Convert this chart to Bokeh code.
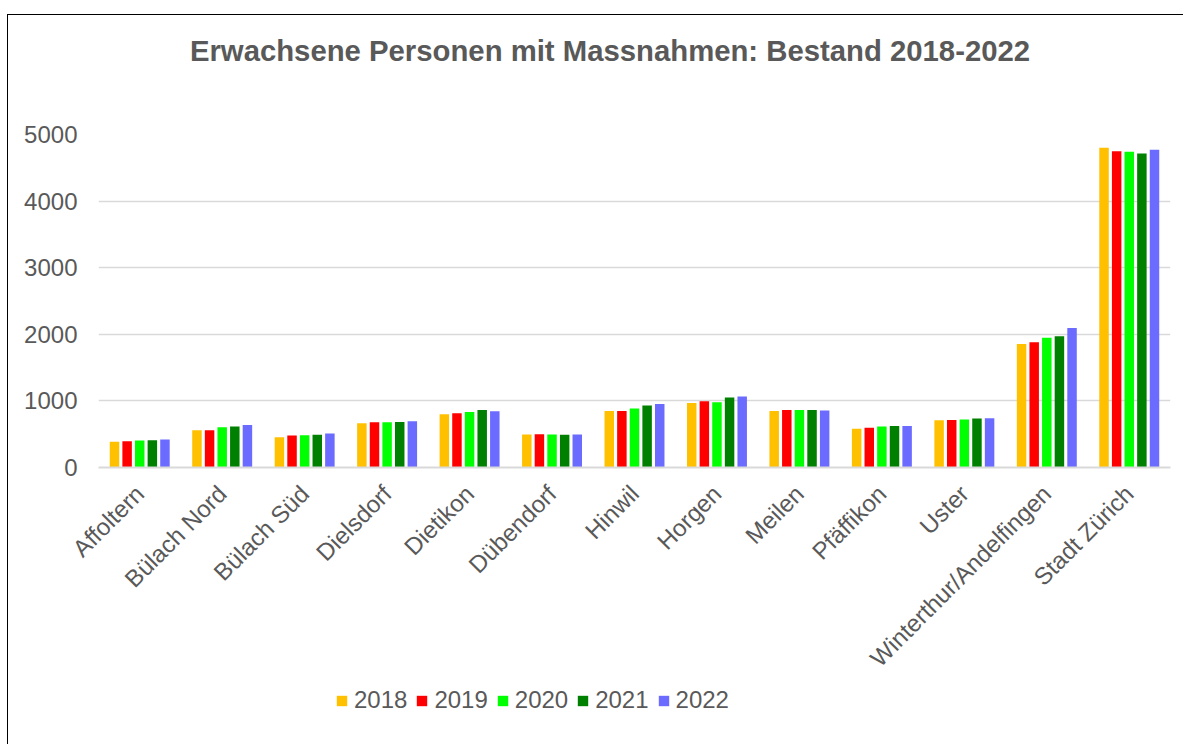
import math
from bokeh.plotting import figure
from bokeh.layouts import column
from bokeh.models import (ColumnDataSource, FactorRange, Range1d, FixedTicker,
                          Legend, LegendItem, Label, InlineStyleSheet)
from bokeh.transform import dodge
from bokeh.embed import file_html
from bokeh.resources import INLINE

categories = ["Affoltern", "Bülach Nord", "Bülach Süd", "Dielsdorf", "Dietikon",
              "Dübendorf", "Hinwil", "Horgen", "Meilen", "Pfäffikon", "Uster",
              "Winterthur/Andelfingen", "Stadt Zürich"]
years = ["2018", "2019", "2020", "2021", "2022"]
v2018 = [385, 560, 455, 665, 800, 495, 850, 970, 850, 580, 710, 1855, 4800]
v2019 = [395, 560, 480, 680, 815, 500, 850, 995, 865, 595, 715, 1880, 4750]
v2020 = [405, 605, 485, 680, 835, 495, 885, 980, 865, 615, 720, 1950, 4740]
v2021 = [410, 615, 490, 685, 865, 490, 930, 1050, 865, 625, 735, 1970, 4715]
v2022 = [420, 640, 510, 695, 845, 495, 955, 1065, 855, 625, 740, 2095, 4770]
y_ticks = [0, 1000, 2000, 3000, 4000, 5000]
title_text = "Erwachsene Personen mit Massnahmen: Bestand 2018-2022"

colors = ["#FFC000", "#FF0000", "#00FF00", "#008000", "#6B6BFF"]
series = [v2018, v2019, v2020, v2021, v2022]

src = ColumnDataSource(dict(cat=categories, **{"y" + y: s for y, s in zip(years, series)}))

FONT = "Liberation Sans"
GREY = "#595959"
W = 1175
BL, BR = 90, 13
FW = W - BL - BR

# title strip
t = figure(width=W, height=52, output_backend="svg", toolbar_location=None,
           x_range=Range1d(0, FW), y_range=Range1d(0, 52),
           x_axis_type=None, y_axis_type=None,
           min_border_left=BL, min_border_right=BR, min_border_top=0, min_border_bottom=0)
t.outline_line_color = None
t.grid.visible = False
t.add_layout(Label(x=511.5, y=17.5, text=title_text, text_align="center",
                   text_baseline="alphabetic", text_font=FONT,
                   text_font_size="29.3px", text_font_style="bold",
                   text_color=GREY))

# main chart
p = figure(x_range=FactorRange(*categories), y_range=Range1d(0, 5000),
           width=W, height=617, output_backend="svg", toolbar_location=None,
           min_border_left=BL, min_border_right=BR, min_border_top=67,
           min_border_bottom=213)
p.outline_line_color = None
p.background_fill_color = "white"
p.border_fill_color = "white"

step = 0.153
for i, (yr, col) in enumerate(zip(years, colors)):
    p.vbar(x=dodge("cat", (i - 2) * step, range=p.x_range), top="y" + yr,
           width=0.115, source=src, fill_color=col, line_color=None)

p.yaxis.ticker = FixedTicker(ticks=y_ticks)
p.yaxis.axis_line_color = None
p.yaxis.major_tick_line_color = None
p.yaxis.minor_tick_line_color = None
p.yaxis.major_label_text_font = FONT
p.yaxis.major_label_text_font_size = "24px"
p.yaxis.major_label_text_color = GREY
p.yaxis.major_label_standoff = 15

p.xaxis.axis_line_color = "#D9D9D9"
p.xaxis.axis_line_width = 2
p.xaxis.major_tick_line_color = None
p.xaxis.minor_tick_line_color = None
p.xaxis.major_label_text_font = FONT
p.xaxis.major_label_text_font_size = "24px"
p.xaxis.major_label_text_color = GREY
p.xaxis.major_label_orientation = math.pi / 4
p.xaxis.major_label_standoff = 16

p.xgrid.grid_line_color = None
p.ygrid.grid_line_color = "#D9D9D9"
p.ygrid.grid_line_width = 1.5

# legend strip (zero-width bars: only the legend swatches show)
q = figure(width=W, height=60, output_backend="svg", toolbar_location=None,
           x_range=FactorRange(*categories), y_range=Range1d(-2, -1),
           x_axis_type=None, y_axis_type=None,
           min_border_left=BL, min_border_right=BR, min_border_top=0, min_border_bottom=0)
q.outline_line_color = None
q.grid.visible = False
items = []
for yr, col in zip(years, colors):
    r = q.vbar(x="cat", top="y" + yr, width=0, source=src,
               fill_color=col, line_color=None)
    items.append(LegendItem(label=yr, renderers=[r]))
legend = Legend(items=items, orientation="horizontal", location=(237, 30),
                glyph_width=13, glyph_height=13, label_standoff=6, spacing=8,
                padding=0, margin=0, border_line_color=None,
                background_fill_alpha=0, label_text_font=FONT,
                label_text_font_size="24px", label_text_color=GREY,
                label_height=28)
q.add_layout(legend, "center")

layout = column(t, p, q, spacing=0)
layout.stylesheets = [InlineStyleSheet(css=":host { border-left: 1.5px solid #000; border-top: 1.5px solid #000; margin-top: 14px; margin-left: 7px; }")]

open("out.html", "w").write(file_html(layout, INLINE))
